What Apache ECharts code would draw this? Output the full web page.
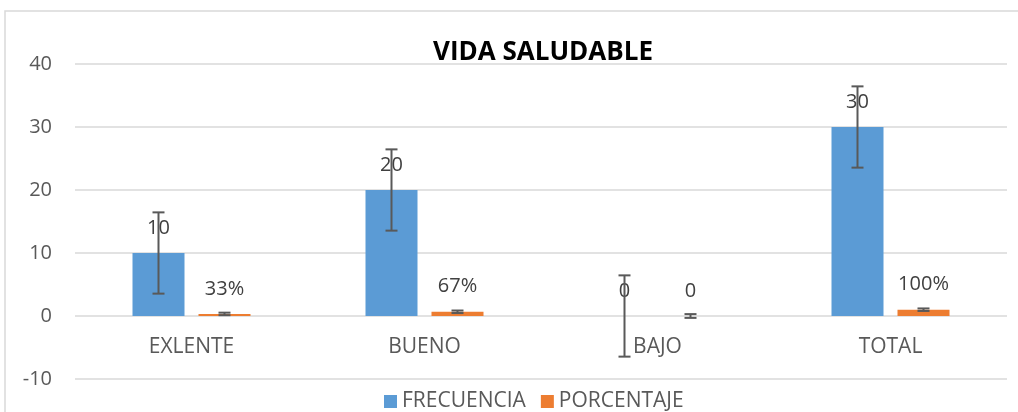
<!DOCTYPE html>
<html>
<head>
<meta charset="utf-8">
<script src="https://cdn.jsdelivr.net/npm/echarts@6/dist/echarts.min.js"></script>
<style>
  html, body { margin: 0; padding: 0; background: #fff; }
  #chart { width: 1018px; height: 412px; }
</style>
</head>
<body>
<div id="chart"></div>
<script>
// values
const categories = ['EXLENTE', 'BUENO', 'BAJO', 'TOTAL'];
const frecuencia = [10, 20, 0, 30];
const porcentaje = [0.33, 0.67, 0, 1];
const frecuenciaError = [6.45, 6.45, 6.45, 6.45];
const porcentajeError = [0.2, 0.2, 0.3, 0.2];
const yTicks = [-10, 0, 10, 20, 30, 40];

const FONT = '"Open Sans", sans-serif';
const BAR_W = 52;
const GAP = 14;
const OFFSET = (BAR_W + GAP) / 2;

function errData(vals, errs) {
  return vals.map(function (v, i) { return [i, v - errs[i], v + errs[i]]; });
}

function errRender(shift) {
  return function (params, api) {
    var lo = api.coord([api.value(0), api.value(1)]);
    var hi = api.coord([api.value(0), api.value(2)]);
    var x = lo[0] + shift;
    var cap = 6;
    var st = { stroke: '#595959', lineWidth: 2 };
    return {
      type: 'group',
      children: [
        { type: 'line', shape: { x1: x, y1: lo[1], x2: x, y2: hi[1] }, style: st },
        { type: 'line', shape: { x1: x - cap, y1: lo[1], x2: x + cap, y2: lo[1] }, style: st },
        { type: 'line', shape: { x1: x - cap, y1: hi[1], x2: x + cap, y2: hi[1] }, style: st }
      ]
    };
  };
}

var chart = echarts.init(document.getElementById('chart'));
var option = {
  animation: false,
  textStyle: { fontFamily: FONT },
  graphic: [{
    type: 'rect',
    shape: { x: 5, y: 11, width: 1030, height: 420 },
    style: { fill: 'none', stroke: '#d9d9d9', lineWidth: 1.5 },
    silent: true
  }],
  title: {
    text: 'VIDA SALUDABLE',
    left: 428,
    top: 35,
    textStyle: { fontFamily: FONT, fontSize: 26, fontWeight: 'bold', color: '#000' }
  },
  legend: {
    bottom: -5,
    left: 379,
    icon: 'rect',
    itemWidth: 13,
    itemHeight: 13,
    itemGap: 15,
    textStyle: { fontFamily: FONT, fontSize: 21, color: '#595959' },
    data: ['FRECUENCIA', 'PORCENTAJE']
  },
  grid: { left: 75, right: 11, top: 64, bottom: 33, outerBoundsMode: 'none' },
  xAxis: {
    type: 'category',
    data: categories,
    offset: -63,
    axisLine: { show: false },
    axisTick: { show: false },
    axisLabel: { margin: 21, fontSize: 21, color: '#595959', fontFamily: FONT }
  },
  yAxis: {
    type: 'value',
    min: yTicks[0],
    max: yTicks[yTicks.length - 1],
    interval: 10,
    axisLine: { show: false },
    axisTick: { show: false },
    axisLabel: { margin: 23, fontSize: 20, color: '#595959', fontFamily: FONT },
    splitLine: { lineStyle: { color: '#d9d9d9', width: 1.5 } }
  },
  series: [
    {
      name: 'FRECUENCIA',
      type: 'bar',
      data: frecuencia,
      barWidth: BAR_W,
      barGap: (GAP / BAR_W * 100) + '%',
      itemStyle: { color: '#5B9BD5' },
      label: {
        show: true, position: 'top', distance: 15,
        fontSize: 20, color: '#404040', fontFamily: FONT
      }
    },
    {
      name: 'PORCENTAJE',
      type: 'bar',
      data: porcentaje,
      barWidth: BAR_W,
      itemStyle: { color: '#ED7D31' },
      label: {
        show: true, position: 'top', distance: 15,
        fontSize: 20, color: '#404040', fontFamily: FONT,
        formatter: function (p) { return p.value === 0 ? '0' : Math.round(p.value * 100) + '%'; }
      }
    },
    {
      type: 'custom',
      renderItem: errRender(-OFFSET),
      data: errData(frecuencia, frecuenciaError),
      encode: { x: 0, y: [1, 2] },
      z: 5,
      silent: true
    },
    {
      type: 'custom',
      renderItem: errRender(OFFSET),
      data: errData(porcentaje, porcentajeError),
      encode: { x: 0, y: [1, 2] },
      z: 5,
      silent: true
    }
  ]
};
chart.setOption(option);
</script>
</body>
</html>
